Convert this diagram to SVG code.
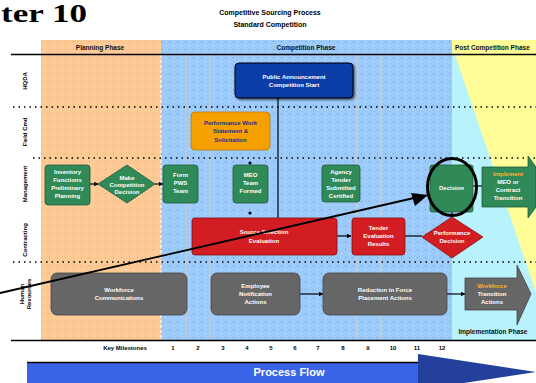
<svg xmlns="http://www.w3.org/2000/svg" width="536" height="383" viewBox="0 0 536 383">
<style>
.t{font-family:"Liberation Sans",Arial,sans-serif;font-weight:bold}
.nt{font-family:"Liberation Sans",Arial,sans-serif;font-weight:bold;font-size:6px;fill:#ffffff;text-anchor:middle}
.hd{font-family:"Liberation Sans",Arial,sans-serif;font-weight:bold;font-size:6.5px;fill:#111;text-anchor:middle}
.rl{font-family:"Liberation Sans",Arial,sans-serif;font-weight:bold;font-size:6px;fill:#000;text-anchor:middle}
.num{font-family:"Liberation Sans",Arial,sans-serif;font-weight:bold;font-size:6px;fill:#000;text-anchor:middle}
.green{fill:#2f8a58;stroke:#1f5a3a;stroke-width:0.8}
.red{fill:#d21e22;stroke:#8a1010;stroke-width:0.8}
.gray{fill:#666666;stroke:#444;stroke-width:0.8}
.conn{stroke:#000;stroke-width:1.2;fill:none}
.dot{stroke:#000;stroke-width:1.3;stroke-dasharray:1.5 4;fill:none}
.vg{stroke:#c8c8c8;stroke-width:1.5;fill:none}
</style>
<defs>
<pattern id="po" width="8" height="8" patternUnits="userSpaceOnUse">
<rect width="8" height="8" fill="#fdc994"/>
<rect x="1" y="1" width="1" height="1" fill="#f59a70"/>
<rect x="5" y="5" width="1" height="1" fill="#fff0a0"/>
</pattern>
<pattern id="pb" width="8" height="8" patternUnits="userSpaceOnUse">
<rect width="8" height="8" fill="#9ccafa"/>
<rect x="1" y="1" width="1" height="1" fill="#6a8ee8"/>
<rect x="5" y="5" width="1" height="1" fill="#c8f4ff"/>
</pattern>
<marker id="ah" viewBox="0 0 10 10" refX="9" refY="5" markerWidth="4" markerHeight="4" orient="auto">
<path d="M0,0 L10,5 L0,10 z" fill="#000"/>
</marker>
<filter id="sh" x="-10%" y="-10%" width="130%" height="140%">
<feDropShadow dx="1.5" dy="1.5" stdDeviation="0.8" flood-color="#000" flood-opacity="0.6"/>
</filter>
</defs>

<!-- Title -->
<text x="1" y="22" textLength="86" lengthAdjust="spacingAndGlyphs" style="font-family:'Liberation Serif','Times New Roman',serif;font-weight:bold" font-size="25" fill="#000">ter 10</text>
<text class="t" x="270" y="15" font-size="7" text-anchor="middle">Competitive Sourcing Process</text>
<text class="t" x="270" y="27" font-size="7" text-anchor="middle">Standard Competition</text>

<!-- Backgrounds -->
<rect x="41" y="40" width="120" height="300" fill="url(#po)"/>
<rect x="161" y="40" width="291" height="300" fill="url(#pb)"/>
<rect x="452" y="55" width="84" height="285" fill="#b8f2fc"/>
<rect x="452" y="40" width="84" height="15" fill="#fffd98"/>
<polygon points="455,55 536,55 536,292" fill="#fffd98"/>

<!-- vertical separators -->
<line x1="161" y1="55" x2="161" y2="340" stroke="#fff" stroke-width="1.2" stroke-dasharray="3 2"/>
<line class="vg" x1="186" y1="55" x2="186" y2="340"/>
<line class="vg" x1="210" y1="55" x2="210" y2="340"/>
<line class="vg" x1="356" y1="55" x2="356" y2="340"/>
<line class="vg" x1="380" y1="55" x2="380" y2="340"/>

<!-- header -->
<text class="hd" x="100" y="50">Planning Phase</text>
<text class="hd" x="306" y="50">Competition Phase</text>
<text class="hd" x="455" y="50" style="text-anchor:start">Post Competition Phase</text>
<line x1="11" y1="54.5" x2="536" y2="54.5" stroke="#000" stroke-width="1.5"/>

<!-- row dividers -->
<line class="dot" x1="13" y1="107" x2="536" y2="107"/>
<line class="dot" x1="33" y1="158" x2="536" y2="158"/>
<line class="dot" x1="13" y1="262" x2="536" y2="262"/>

<!-- row labels -->
<text class="rl" transform="translate(27,81) rotate(-90)">HQDA</text>
<text class="rl" transform="translate(27,132) rotate(-90)">Field Cmd</text>
<text class="rl" transform="translate(27,184) rotate(-90)">Management</text>
<text class="rl" transform="translate(27,240) rotate(-90)">Contracting</text>
<text class="rl" transform="translate(24,294) rotate(-90)">Human</text>
<text class="rl" transform="translate(31,294) rotate(-90)">Resources</text>

<!-- bottom line and milestones -->
<line x1="11" y1="340.5" x2="536" y2="340.5" stroke="#000" stroke-width="1.5"/>
<text class="num" x="125" y="350">Key Milestones</text>
<text class="num" x="173" y="350">1</text>
<text class="num" x="198" y="350">2</text>
<text class="num" x="223" y="350">3</text>
<text class="num" x="247" y="350">4</text>
<text class="num" x="271" y="350">5</text>
<text class="num" x="295" y="350">6</text>
<text class="num" x="318" y="350">7</text>
<text class="num" x="343" y="350">8</text>
<text class="num" x="368" y="350">9</text>
<text class="num" x="393" y="350">10</text>
<text class="num" x="417" y="350">11</text>
<text class="num" x="442" y="350">12</text>

<!-- Process flow arrow -->
<g id="process-flow">
<rect x="27" y="362" width="395" height="21" fill="#3a63e8"/>
<line x1="27" y1="362.5" x2="420" y2="362.5" stroke="#000" stroke-width="1.5"/>
<polygon points="418,354 536,372 418,390" fill="#22409c"/>
<text class="t" x="289" y="376" font-size="11" fill="#fff" text-anchor="middle">Process Flow</text>
</g>

<!-- connectors -->
<g id="connectors">
<line class="conn" x1="278" y1="98" x2="278" y2="218"/>
<line class="conn" x1="90" y1="184" x2="98" y2="184" marker-end="url(#ah)"/>
<line class="conn" x1="155" y1="184" x2="163" y2="184" marker-end="url(#ah)"/>
<line class="conn" x1="473" y1="186" x2="482" y2="186"/>
<line class="conn" x1="452" y1="212" x2="452" y2="217"/>
<line class="conn" x1="337" y1="236" x2="351" y2="236" marker-end="url(#ah)"/>
<line class="conn" x1="405" y1="236" x2="422" y2="236"/>
<line class="conn" x1="300" y1="294" x2="323" y2="294" marker-end="url(#ah)"/>
<line class="conn" x1="447" y1="294" x2="465" y2="294" marker-end="url(#ah)"/>
<circle cx="250" cy="163" r="1.6" fill="#000"/>
<circle cx="250" cy="213" r="1.6" fill="#000"/>
</g>

<!-- HQ row -->
<g id="n-announce">
<rect x="235" y="63" width="118" height="35" rx="4" fill="#0a3ca6" stroke="#000" stroke-width="1" filter="url(#sh)"/>
<text class="nt" x="294" y="79">Public Announcement</text>
<text class="nt" x="294" y="87">Competition Start</text>
</g>

<g id="n-pws">
<rect x="191" y="112" width="79" height="38" rx="4" fill="#f6a000" stroke="#c07800" stroke-width="0.8"/>
<text class="nt" x="230.5" y="125" style="fill:#12308a">Performance Work</text>
<text class="nt" x="230.5" y="133" style="fill:#12308a">Statement &amp;</text>
<text class="nt" x="230.5" y="142" style="fill:#12308a">Solicitation</text>
</g>

<!-- Management row -->
<g id="n-inventory">
<rect class="green" x="45" y="165" width="45" height="40" rx="3"/>
<text class="nt" x="67.5" y="174">Inventory</text>
<text class="nt" x="67.5" y="182">Functions</text>
<text class="nt" x="67.5" y="190">Preliminary</text>
<text class="nt" x="67.5" y="198">Planning</text>
</g>

<g id="n-decision1">
<polygon class="green" points="127,165 155,184 127,203 98,184"/>
<text class="nt" x="127" y="180">Make</text>
<text class="nt" x="127" y="187">Competition</text>
<text class="nt" x="127" y="194">Decision</text>
</g>

<g id="n-form-pws">
<rect class="green" x="163" y="165" width="35" height="38" rx="3"/>
<text class="nt" x="180.5" y="177">Form</text>
<text class="nt" x="180.5" y="185">PWS</text>
<text class="nt" x="180.5" y="193">Team</text>
</g>

<g id="n-meo">
<rect class="green" x="233" y="165" width="35" height="38" rx="3"/>
<text class="nt" x="250.5" y="177">MEO</text>
<text class="nt" x="250.5" y="185">Team</text>
<text class="nt" x="250.5" y="193">Formed</text>
</g>

<g id="n-tender">
<rect class="green" x="322" y="165" width="38" height="37" rx="3"/>
<text class="nt" x="341" y="174">Agency</text>
<text class="nt" x="341" y="182">Tender</text>
<text class="nt" x="341" y="190">Submitted</text>
<text class="nt" x="341" y="198">Certified</text>
</g>

<g id="n-final-decision">
<rect class="green" x="430" y="165" width="43" height="47" rx="2"/>
<text class="nt" x="451.5" y="190">Decision</text>
<ellipse cx="452" cy="187" rx="24.5" ry="28.5" fill="none" stroke="#000" stroke-width="3"/>
</g>

<g id="n-implement">
<polygon class="green" points="482,167 528,167 528,156 536,167 536,207 528,218 528,207 482,207"/>
<text class="nt" x="508" y="176" style="fill:#ffb030">Implement</text>
<text class="nt" x="508" y="184">MEO or</text>
<text class="nt" x="508" y="192">Contract</text>
<text class="nt" x="508" y="200">Transition</text>
</g>

<!-- Contracting row -->
<g id="n-source-selection">
<rect class="red" x="192" y="218" width="145" height="37" rx="3"/>
<text class="nt" x="264" y="234">Source Selection</text>
<text class="nt" x="264" y="243">Evaluation</text>
</g>

<g id="n-eval">
<rect class="red" x="352" y="218" width="53" height="37" rx="3"/>
<text class="nt" x="378.5" y="230">Tender</text>
<text class="nt" x="378.5" y="238">Evaluation</text>
<text class="nt" x="378.5" y="246">Results</text>
</g>

<g id="n-perf-decision">
<polygon class="red" points="452,217 483,237 452,258 422,237"/>
<text class="nt" x="452" y="235">Performance</text>
<text class="nt" x="452" y="243">Decision</text>
</g>

<!-- HR row -->
<g id="n-workforce">
<rect class="gray" x="51" y="273" width="136" height="42" rx="6"/>
<text class="nt" x="119" y="292">Workforce</text>
<text class="nt" x="119" y="300">Communications</text>
</g>

<g id="n-employee">
<rect class="gray" x="211" y="273" width="89" height="42" rx="6"/>
<text class="nt" x="255.5" y="288">Employee</text>
<text class="nt" x="255.5" y="296">Notification</text>
<text class="nt" x="255.5" y="304">Actions</text>
</g>

<g id="n-rif">
<rect class="gray" x="323" y="273" width="124" height="42" rx="6"/>
<text class="nt" x="385" y="292">Reduction in Force</text>
<text class="nt" x="385" y="300">Placement Actions</text>
</g>

<g id="n-transition">
<polygon class="gray" points="465,278 517,278 517,265 531,294 517,325 517,310 465,310"/>
<text class="nt" x="492" y="288" style="fill:#ffb030">Workforce</text>
<text class="nt" x="492" y="296">Transition</text>
<text class="nt" x="492" y="304">Actions</text>
</g>
<text class="hd" x="493" y="334">Implementation Phase</text>

<!-- long annotation arrow -->
<line x1="0" y1="293" x2="414" y2="198" stroke="#000" stroke-width="1.8"/>
<polygon points="428,195 411,193 415,206" fill="#000"/>
</svg>
